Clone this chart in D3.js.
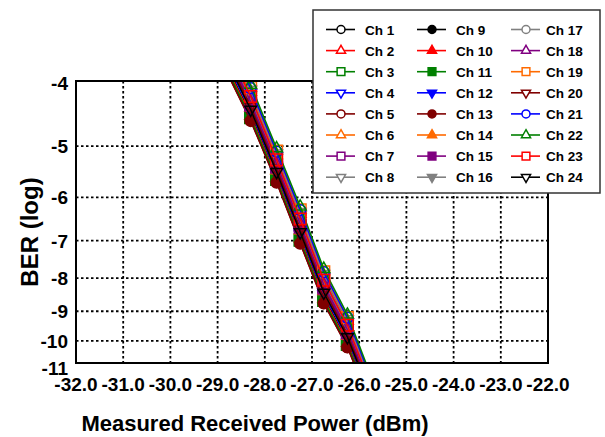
<!DOCTYPE html>
<html>
<head>
<meta charset="utf-8">
<script src="https://cdn.jsdelivr.net/npm/d3@7"></script>
<style>
  body { margin: 0; background: #fff; }
  text { font-family: "Liberation Sans", Arial, sans-serif; font-weight: bold; }
</style>
</head>
<body>
<div id="chart"></div>
<script>
// measured power (dBm) for each point of a channel
var power = [-28.8, -28.3, -27.75, -27.25, -26.75, -26.25, -25.8];

// BER exponent (log10) per channel
var ch1  = [-3.76, -4.46, -5.56, -6.90, -8.56, -10.02, -12.08];
var ch2  = [-3.54, -4.22, -5.27, -6.51, -8.10, -9.51, -11.53];
var ch3  = [-3.81, -4.51, -5.62, -6.98, -8.65, -10.12, -12.19];
var ch4  = [-3.47, -4.14, -5.19, -6.40, -7.97, -9.36, -11.37];
var ch5  = [-3.85, -4.56, -5.68, -7.06, -8.74, -10.22, -12.30];
var ch6  = [-3.45, -4.12, -5.16, -6.36, -7.92, -9.31, -11.31];
var ch7  = [-3.60, -4.29, -5.36, -6.63, -8.24, -9.66, -11.70];
var ch8  = [-3.42, -4.09, -5.13, -6.32, -7.88, -9.26, -11.26];
var ch9  = [-3.83, -4.54, -5.65, -7.02, -8.69, -10.17, -12.25];
var ch10 = [-3.78, -4.49, -5.59, -6.94, -8.60, -10.07, -12.14];
var ch11 = [-3.81, -4.52, -5.63, -6.99, -8.66, -10.13, -12.20];
var ch12 = [-3.72, -4.41, -5.51, -6.83, -8.47, -9.92, -11.97];
var ch13 = [-3.85, -4.57, -5.69, -7.07, -8.75, -10.23, -12.31];
var ch14 = [-3.67, -4.36, -5.45, -6.75, -8.38, -9.82, -11.86];
var ch15 = [-3.63, -4.32, -5.39, -6.67, -8.29, -9.72, -11.75];
var ch16 = [-3.49, -4.17, -5.22, -6.44, -8.01, -9.41, -11.42];
var ch17 = [-3.56, -4.24, -5.30, -6.55, -8.15, -9.56, -11.59];
var ch18 = [-3.58, -4.27, -5.33, -6.59, -8.19, -9.61, -11.64];
var ch19 = [-3.40, -4.06, -5.09, -6.27, -7.82, -9.20, -11.19];
var ch20 = [-3.65, -4.34, -5.42, -6.71, -8.33, -9.77, -11.81];
var ch21 = [-3.40, -4.07, -5.10, -6.28, -7.83, -9.21, -11.20];
var ch22 = [-3.36, -4.02, -5.04, -6.20, -7.74, -9.11, -11.09];
var ch23 = [-3.51, -4.19, -5.25, -6.48, -8.06, -9.46, -11.48];
var ch24 = [-3.69, -4.39, -5.48, -6.79, -8.42, -9.87, -11.92];

var channelNames = ["Ch 1", "Ch 2", "Ch 3", "Ch 4", "Ch 5", "Ch 6", "Ch 7", "Ch 8",
  "Ch 9", "Ch 10", "Ch 11", "Ch 12", "Ch 13", "Ch 14", "Ch 15", "Ch 16",
  "Ch 17", "Ch 18", "Ch 19", "Ch 20", "Ch 21", "Ch 22", "Ch 23", "Ch 24"];
var channelValues = [ch1, ch2, ch3, ch4, ch5, ch6, ch7, ch8, ch9, ch10, ch11, ch12,
  ch13, ch14, ch15, ch16, ch17, ch18, ch19, ch20, ch21, ch22, ch23, ch24];

var xTicks = [-32, -31, -30, -29, -28, -27, -26, -25, -24, -23, -22];
var yTicks = [-4, -5, -6, -7, -8, -9, -10, -11];

// styling per channel
var colors = ["#000000", "#ff0000", "#008000", "#0000ff", "#800000", "#ff6a00", "#800080", "#808080",
  "#000000", "#ff0000", "#008000", "#0000ff", "#800000", "#ff6a00", "#800080", "#808080",
  "#808080", "#800080", "#ff6a00", "#800000", "#0000ff", "#008000", "#ff0000", "#000000"];
var shapes = ["circle", "triangle", "square", "down", "circle", "triangle", "square", "down",
  "circle", "triangle", "square", "down", "circle", "triangle", "square", "down",
  "circle", "triangle", "square", "down", "circle", "triangle", "square", "down"];

var W = 605, H = 437;
var pLeft = 76, pRight = 548, pTop = 81, pBottom = 363;

var svg = d3.select("#chart").append("svg")
    .attr("width", W)
    .attr("height", H);

var x = d3.scaleLinear().domain([-32, -22]).range([pLeft, pRight]);
// log(-log BER) style axis
var yLog = d3.scaleLog().domain([3.965, 10.82]).range([pTop, pBottom]);
function y(v) { return yLog(-v); }

// grid
svg.append("g").selectAll("line")
    .data(xTicks.slice(1, -1))
    .enter().append("line")
    .attr("x1", function (d) { return x(d); })
    .attr("x2", function (d) { return x(d); })
    .attr("y1", pTop).attr("y2", pBottom)
    .style("stroke", "#000").style("stroke-width", 1.8)
    .style("stroke-dasharray", "2.5,2.5");

svg.append("g").selectAll("line")
    .data(yTicks.slice(1, -1))
    .enter().append("line")
    .attr("y1", function (d) { return y(d); })
    .attr("y2", function (d) { return y(d); })
    .attr("x1", pLeft).attr("x2", pRight)
    .style("stroke", "#000").style("stroke-width", 1.8)
    .style("stroke-dasharray", "2.5,2.5");

// tick labels
svg.append("g").selectAll("text")
    .data(xTicks)
    .enter().append("text")
    .attr("x", function (d) { return x(d); })
    .attr("y", 391)
    .attr("text-anchor", "middle")
    .style("font-size", "19px")
    .text(function (d) { return d.toFixed(1); });

svg.append("g").selectAll("text")
    .data(yTicks)
    .enter().append("text")
    .attr("x", 68)
    .attr("y", function (d) { return y(d) + 7; })
    .attr("text-anchor", "end")
    .style("font-size", "19px")
    .text(function (d) { return d; });

// axis titles
svg.append("text")
    .attr("x", 255).attr("y", 431)
    .attr("text-anchor", "middle")
    .style("font-size", "22px")
    .text("Measured Received Power (dBm)");

svg.append("text")
    .attr("transform", "translate(38,232) rotate(-90)")
    .attr("text-anchor", "middle")
    .style("font-size", "24px")
    .text("BER (log)");

// series
svg.append("clipPath").attr("id", "clip")
    .append("rect")
    .attr("x", pLeft).attr("y", pTop)
    .attr("width", pRight - pLeft).attr("height", pBottom - pTop);

function symbolPath(shape, big) {
    var s = big ? { circle: 95, triangle: 60, square: 135, down: 60 } : { circle: 50, triangle: 36, square: 60, down: 36 };
    var t = { circle: d3.symbolCircle, triangle: d3.symbolTriangle, square: d3.symbolSquare, down: d3.symbolTriangle };
    return d3.symbol().type(t[shape]).size(s[shape])();
}

var line = d3.line()
    .x(function (d) { return x(d[0]); })
    .y(function (d) { return y(d[1]); });

var plot = svg.append("g").attr("clip-path", "url(#clip)");

var series = plot.selectAll(".series")
    .data(channelValues)
    .enter().append("g")
    .attr("class", "series");

series.append("path")
    .attr("d", function (d) { return line(d.map(function (v, i) { return [power[i], v]; })); })
    .style("fill", "none")
    .style("stroke", function (d, i) { return colors[i]; })
    .style("stroke-width", 1.5);

series.each(function (vals, ci) {
    d3.select(this).selectAll("path.mk")
        .data(vals)
        .enter().append("path")
        .attr("class", "mk")
        .attr("d", symbolPath(shapes[ci], true))
        .attr("transform", function (v, i) {
            return "translate(" + x(power[i]) + "," + y(v) + ")" + (shapes[ci] === "down" ? " rotate(180)" : "");
        })
        .style("fill", ci >= 8 && ci < 16 ? colors[ci] : "none")
        .style("stroke", colors[ci])
        .style("stroke-width", 1.5);
});

// frame
svg.append("rect")
    .attr("x", pLeft).attr("y", pTop)
    .attr("width", pRight - pLeft).attr("height", pBottom - pTop)
    .style("fill", "none").style("stroke", "#000").style("stroke-width", 2);

// legend
var legend = svg.append("g");
legend.append("rect")
    .attr("x", 313).attr("y", 10)
    .attr("width", 287).attr("height", 183)
    .style("fill", "#fff").style("stroke", "#333").style("stroke-width", 1.5);

var colMarker = [341, 432, 526];
var colText = [365, 456, 546];

var item = legend.selectAll(".item")
    .data(channelNames)
    .enter().append("g")
    .attr("class", "item")
    .attr("transform", function (d, i) {
        return "translate(" + colMarker[Math.floor(i / 8)] + "," + (29.5 + (i % 8) * 21.1) + ")";
    });

item.append("line")
    .attr("x1", -15).attr("x2", 14)
    .style("stroke", function (d, i) { return colors[i]; })
    .style("stroke-width", 1.6);

item.append("path")
    .attr("d", function (d, i) { return symbolPath(shapes[i], false); })
    .attr("transform", function (d, i) { return shapes[i] === "down" ? "rotate(180)" : null; })
    .style("fill", function (d, i) { return i >= 8 && i < 16 ? colors[i] : "#fff"; })
    .style("stroke", function (d, i) { return colors[i]; })
    .style("stroke-width", 1.5);

item.append("text")
    .attr("x", function (d, i) { return colText[Math.floor(i / 8)] - colMarker[Math.floor(i / 8)]; })
    .attr("y", 5)
    .style("font-size", "13.5px")
    .text(function (d) { return d; });
</script>
</body>
</html>
